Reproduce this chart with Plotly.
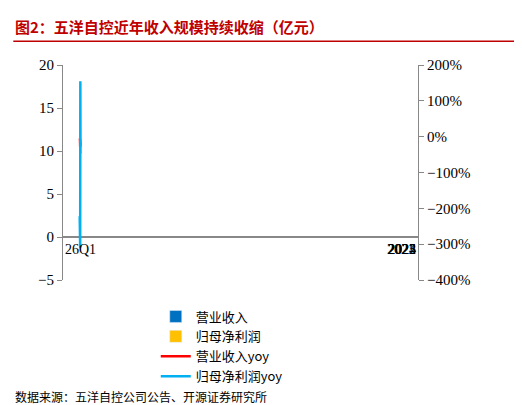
import plotly.graph_objects as go

years = ["2021", "2022", "2023", "2024", "2025", "26Q1"]
revenue = [15.7, 14.7, 13.7, 10.2, 8.6, 1.9]
net_profit = [-2.0, 0.6, 0.5, -1.2, 0.5, 0.3]
revenue_yoy = [-5, -8, -8, -28, -17, -20]
profit_yoy = [-222, 130, 8, -310, 155, -47]

font = "Noto Sans CJK SC"
fig = go.Figure()
fig.add_bar(x=years, y=revenue, name="营业收入", marker_color="#0070C0", offsetgroup="a", width=0.3)
fig.add_bar(x=years, y=net_profit, name="归母净利润", marker_color="#FFC000", offsetgroup="b", width=0.3)
fig.add_scatter(x=years, y=revenue_yoy, name="营业收入yoy", yaxis="y2", mode="lines",
                line=dict(color="#FF0000", width=2.5))
fig.add_scatter(x=years, y=profit_yoy, name="归母净利润yoy", yaxis="y2", mode="lines",
                line=dict(color="#00B0F0", width=2.5))
for yr in years:
    fig.add_annotation(x=yr, y=-0.3, text=yr, showarrow=False, yanchor="top",
                       font=dict(family="Times New Roman, Liberation Serif", size=14, color="#000"))

fig.update_layout(
    width=522, height=405, plot_bgcolor="white", paper_bgcolor="white",
    margin=dict(l=55, r=112, t=57, b=133),
    barmode="group", bargap=0.3, bargroupgap=0,
    font=dict(family=font, size=13, color="#000"),
    xaxis=dict(type="category", showticklabels=False, showline=False, ticks=""),
    yaxis=dict(range=[-5, 20], dtick=5, showgrid=False, zeroline=True, zerolinecolor="#888",
               showline=True, linecolor="#888", ticks="outside", tickcolor="#888",
               tickfont=dict(family="Times New Roman, Liberation Serif", size=15)),
    yaxis2=dict(range=[-400, 200], dtick=100, overlaying="y", side="right", showgrid=False,
                zeroline=False, showline=True, linecolor="#888", ticks="outside", tickcolor="#888",
                ticksuffix="%", tickfont=dict(family="Times New Roman, Liberation Serif", size=15)),
    legend=dict(orientation="h", x=0.55, xanchor="center", y=-0.1, yanchor="top",
                entrywidth=160, font=dict(family=font, size=13), tracegroupgap=4),
)
fig.add_annotation(xref="paper", yref="paper", x=-0.14, y=1.12, xanchor="left", yanchor="bottom",
                   text="<b>图2：五洋自控近年收入规模持续收缩（亿元）</b>", showarrow=False,
                   font=dict(family=font, size=15, color="#C00000"))
fig.add_shape(type="line", xref="paper", yref="paper", x0=-0.14, x1=1.3, y0=1.11, y1=1.11,
              line=dict(color="#C00000", width=1.5))
fig.add_annotation(xref="paper", yref="paper", x=-0.14, y=-0.59, xanchor="left", yanchor="bottom",
                   text="数据来源：五洋自控公司公告、开源证券研究所", showarrow=False,
                   font=dict(family=font, size=12, color="#000"))
fig.write_html("out.html")
